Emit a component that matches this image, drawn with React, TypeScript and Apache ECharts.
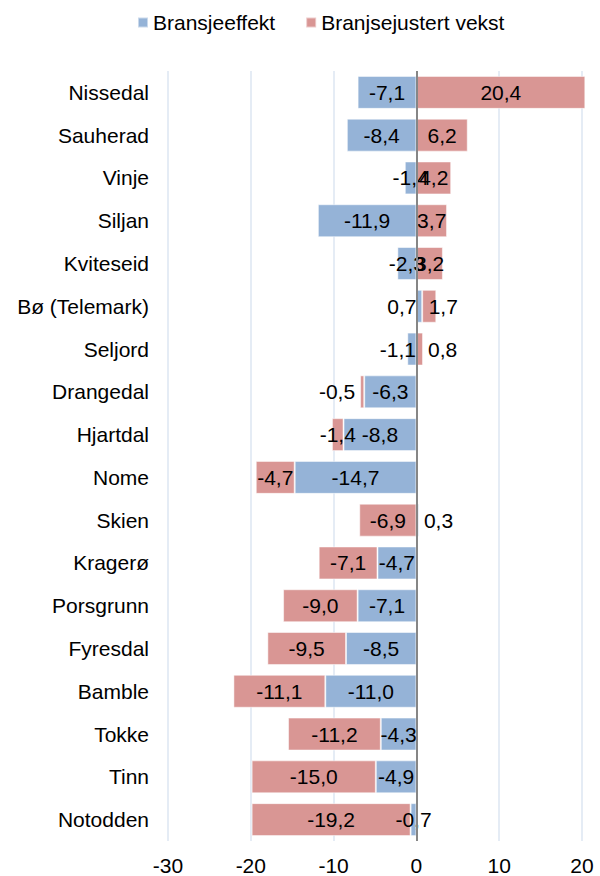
import React, { useEffect, useRef } from "react";
import * as echarts from "echarts";

const categories = [
  "Nissedal",
  "Sauherad",
  "Vinje",
  "Siljan",
  "Kviteseid",
  "Bø (Telemark)",
  "Seljord",
  "Drangedal",
  "Hjartdal",
  "Nome",
  "Skien",
  "Kragerø",
  "Porsgrunn",
  "Fyresdal",
  "Bamble",
  "Tokke",
  "Tinn",
  "Notodden",
];

const bransjeeffekt = [
  -7.1, -8.4, -1.4, -11.9, -2.3, 0.7, -1.1, -6.3, -8.8, -14.7, 0.3, -4.7, -7.1,
  -8.5, -11.0, -4.3, -4.9, -0.7,
];

const justertVekst = [
  20.4, 6.2, 4.2, 3.7, 3.2, 1.7, 0.8, -0.5, -1.4, -4.7, -6.9, -7.1, -9.0, -9.5,
  -11.1, -11.2, -15.0, -19.2,
];

const seriesNames = ["Bransjeeffekt", "Branjsejustert vekst"];
const colors = ["#95B3D7", "#D99694"];

// label placement tweaks (style only)
const labelTweaks: Record<string, Record<string, any>> = {
  Bransjeeffekt: {
    "Bø (Telemark)": { position: "left", distance: 0 },
    Seljord: { position: "inside", offset: [-14, 0] },
    Skien: { position: "right", distance: 5 },
  },
  "Branjsejustert vekst": {
    "Bø (Telemark)": { position: "inside", offset: [14, 0] },
    Seljord: { position: "right", distance: 5 },
    Drangedal: { position: "left", distance: 5 },
  },
};

const FONT = '"Liberation Sans", Arial, sans-serif';
const FS = 21;

export default function App() {
  const ref = useRef<HTMLDivElement>(null);

  useEffect(() => {
    document.body.style.margin = "0";
    if (!ref.current) return;
    const chart = echarts.init(ref.current, undefined, { renderer: "svg" });

    const build = (name: string, values: number[]) =>
      values.map((v, i) => {
        const t = labelTweaks[name]?.[categories[i]];
        return t ? { value: v, label: t } : v;
      });

    const fmt = (p: any) => {
      const v = typeof p.value === "number" ? p.value : Number(p.value);
      return v.toFixed(1).replace(".", ",");
    };

    chart.setOption({
      animation: false,
      textStyle: { fontFamily: FONT },
      legend: {
        data: seriesNames,
        left: 137,
        top: 12,
        padding: 0,
        itemWidth: 10,
        itemHeight: 10,
        itemGap: 30,
        icon: "rect",
        textStyle: { fontSize: FS, color: "#000", fontFamily: FONT },
      },
      grid: { left: 168, right: 18, top: 71, bottom: 33, containLabel: false },
      xAxis: {
        type: "value",
        min: -30,
        max: 20,
        interval: 10,
        axisLine: { show: false },
        axisTick: { show: false },
        axisLabel: { fontSize: FS, color: "#000", margin: 14, fontFamily: FONT },
        splitLine: { show: true, lineStyle: { color: "#DCE6F2", width: 1.5 } },
      },
      yAxis: {
        type: "category",
        data: categories,
        inverse: true,
        axisLine: { show: false },
        axisTick: { show: false },
        splitLine: { show: false },
        axisLabel: { fontSize: FS, color: "#000", margin: 19, fontFamily: FONT },
      },
      series: [
        {
          name: seriesNames[0],
          type: "bar",
          stack: "total",
          clip: false,
          barCategoryGap: "23%",
          data: build(seriesNames[0], bransjeeffekt),
          itemStyle: { color: colors[0], borderColor: "rgba(255,255,255,0.5)", borderWidth: 1 },
          label: {
            show: true,
            position: "inside",
            color: "#000",
            fontSize: FS,
            fontFamily: FONT,
            formatter: fmt,
          },
        },
        {
          name: seriesNames[1],
          type: "bar",
          stack: "total",
          clip: false,
          barCategoryGap: "23%",
          data: build(seriesNames[1], justertVekst),
          itemStyle: { color: colors[1], borderColor: "rgba(255,255,255,0.5)", borderWidth: 1 },
          label: {
            show: true,
            position: "inside",
            color: "#000",
            fontSize: FS,
            fontFamily: FONT,
            formatter: fmt,
          },
          markLine: {
            silent: true,
            symbol: ["none", "none"],
            label: { show: false },
            lineStyle: { color: "#868686", width: 2, type: "solid" },
            data: [{ xAxis: 0 }],
          },
        },
      ],
    });

    return () => chart.dispose();
  }, []);

  return <div ref={ref} style={{ width: 600, height: 876 }} />;
}
